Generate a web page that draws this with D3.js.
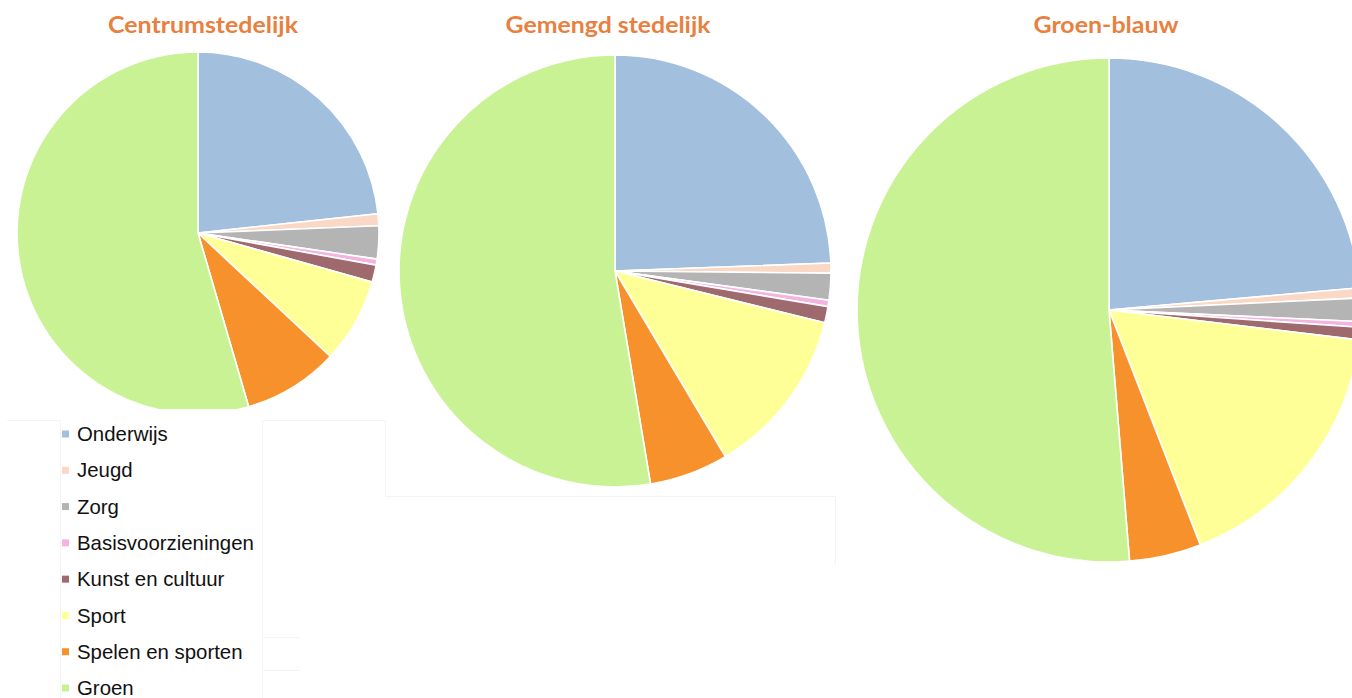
<!DOCTYPE html>
<html>
<head>
<meta charset="utf-8">
<script src="https://cdn.jsdelivr.net/npm/d3@7"></script>
<style>
  html, body { margin: 0; padding: 0; background: #ffffff; overflow: hidden; }
  svg { display: block; }
</style>
</head>
<body>
<svg id="chart" width="1352" height="698"></svg>
<script>
// Facility categories, in slice order (clockwise from 12 o'clock)
const categories = [
  "Onderwijs", "Jeugd", "Zorg", "Basisvoorzieningen",
  "Kunst en cultuur", "Sport", "Spelen en sporten", "Groen"
];

// Share per category (%) for each area type
const centrumstedelijk = [23.3, 1.06, 2.94, 0.53, 1.53, 7.58, 8.53, 54.5];
const gemengdStedelijk = [24.4, 0.75, 2.0, 0.47, 1.22, 12.6, 5.9, 52.6];
const groenBlauw       = [23.6, 0.64, 1.5, 0.36, 0.8, 17.2, 4.6, 51.3];

const titles = ["Centrumstedelijk", "Gemengd stedelijk", "Groen-blauw"];
const seriesList = [centrumstedelijk, gemengdStedelijk, groenBlauw];

const palette = [
  "#a3bfde", "#f9d8c6", "#b5b4b4", "#f3b5df",
  "#9e6a6e", "#feff97", "#f7912b", "#c9f295"
];

// Layout for the three pies
const pieLayout = [
  { cx: 198,  cy: 233, r: 181, titleX: 203,  clipBottom: 409 },
  { cx: 615,  cy: 271, r: 216, titleX: 608,  clipBottom: null },
  { cx: 1109, cy: 310, r: 252, titleX: 1106, clipBottom: null }
];
const titleWidths = [190, 205, 145];

const svg = d3.select("#chart");
const color = d3.scaleOrdinal().domain(categories).range(palette);

const pie = d3.pie().sort(null).value(d => d.value);

const defs = svg.append("defs");

// faint panel outlines
const frame = svg.append("g")
  .attr("fill", "none")
  .attr("stroke", "#f4f4f4")
  .attr("stroke-width", 1);
frame.append("path").attr("d", "M7,420.5H60.5V698");
frame.append("path").attr("d", "M262.5,698V420.5H385.5V496.5H835.5V565");
frame.append("path").attr("d", "M262,637.5H300M262,670.5H300");

seriesList.forEach((values, i) => {
  const L = pieLayout[i];
  const data = categories.map((c, k) => ({ category: c, value: values[k] }));
  const arc = d3.arc().innerRadius(0).outerRadius(L.r);

  const g = svg.append("g").attr("transform", `translate(${L.cx},${L.cy})`);

  if (L.clipBottom !== null) {
    const id = "clip" + i;
    defs.append("clipPath").attr("id", id)
      .append("rect")
      .attr("x", -L.r - 5).attr("y", -L.r - 5)
      .attr("width", 2 * L.r + 10)
      .attr("height", L.clipBottom - L.cy + L.r + 5);
    g.attr("clip-path", `url(#${id})`);
  }

  g.selectAll("path")
    .data(pie(data))
    .join("path")
    .attr("d", arc)
    .attr("fill", d => color(d.data.category))
    .attr("stroke", "#ffffff")
    .attr("stroke-width", 1.6)
    .attr("stroke-linejoin", "round");

  svg.append("text")
    .attr("x", L.titleX)
    .attr("y", 33)
    .attr("text-anchor", "middle")
    .attr("font-family", "Lato, 'Open Sans', sans-serif")
    .attr("font-weight", "bold")
    .attr("font-size", 23)
    .attr("fill", "#e8803f")
    .attr("textLength", titleWidths[i])
    .attr("lengthAdjust", "spacingAndGlyphs")
    .text(titles[i]);
});

// Legend
const legend = svg.append("g").attr("transform", "translate(62,0)");
const rowY = d3.scalePoint().domain(categories).range([434, 688]);

const item = legend.selectAll("g")
  .data(categories)
  .join("g")
  .attr("transform", d => `translate(0,${rowY(d)})`);

item.append("rect")
  .attr("x", 0).attr("y", -3.5)
  .attr("width", 7).attr("height", 7)
  .attr("fill", d => color(d));

item.append("text")
  .attr("x", 15)
  .attr("y", 0)
  .attr("dy", "0.35em")
  .attr("font-family", "'Liberation Sans', Arial, sans-serif")
  .attr("font-size", 20.4)
  .attr("fill", "#111111")
  .text(d => d);
</script>
</body>
</html>
